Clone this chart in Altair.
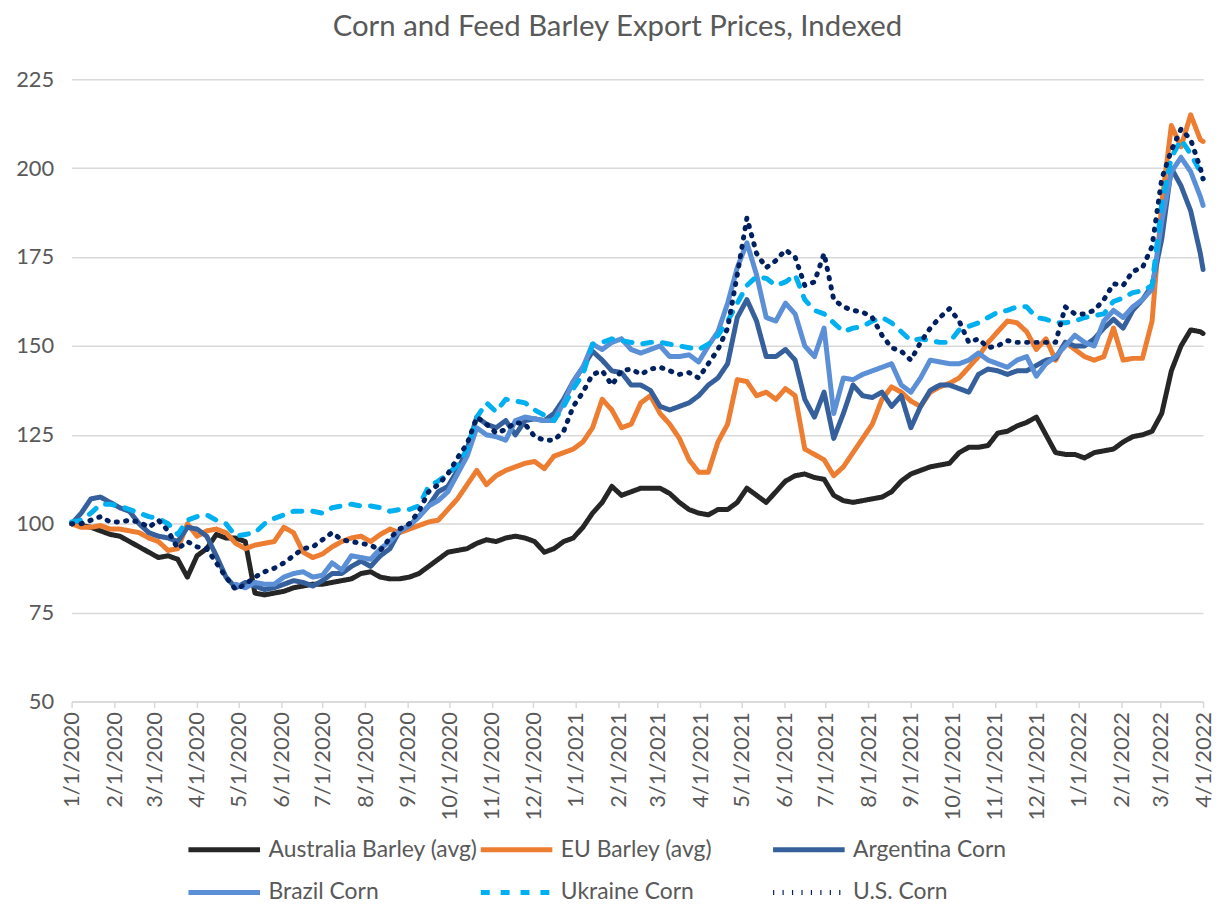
import altair as alt
import pandas as pd

# weekly observation dates (Wednesdays from 1 Jan 2020) plus the final 1 Apr 2022 point
dates = list(pd.date_range("2020-01-01", periods=118, freq="7D").strftime("%Y-%m-%dT00:00:00")) + ["2022-04-01T00:00:00"]

series_names = ["Australia Barley (avg)", "EU Barley (avg)", "Argentina Corn",
                "Brazil Corn", "Ukraine Corn", "U.S. Corn"]
series_colors = ["#262626", "#ED7D31", "#36609B", "#5B8FD6", "#00B0F0", "#002060"]
series_dashes = [[1, 0], [1, 0], [1, 0], [1, 0], [9, 11], [1.2, 8.3]]

australia = [
    100, 99.5, 99, 98, 97, 96.5, 95, 93.5, 92, 90.5,
    91, 90, 85, 91, 93, 97, 96, 96, 95, 80.5,
    80, 80.5, 81, 82, 82.5, 83, 83, 83.5, 84, 84.5,
    86, 86.5, 85, 84.5, 84.5, 85, 86, 88, 90, 92,
    92.5, 93, 94.5, 95.5, 95, 96, 96.5, 96, 95, 92,
    93, 95, 96, 99, 103, 106, 110.5, 108, 109, 110,
    110, 110, 108.5, 106, 104, 103, 102.5, 104, 104, 106,
    110, 108, 106, 109, 112, 113.5, 114, 113, 112.5, 108,
    106.5, 106, 106.5, 107, 107.5, 109, 112, 114, 115, 116,
    116.5, 117, 120, 121.5, 121.5, 122, 125.5, 126, 127.5, 128.5,
    130, 125, 120, 119.5, 119.5, 118.5, 120, 120.5, 121, 123,
    124.5, 125, 126, 131, 143, 150, 154.5, 154,
    153.5]

eu_barley = [
    100, 99, 99, 99.5, 98.5, 98.5, 98, 97.5, 96, 95,
    92.5, 93, 100, 96.5, 98, 98.5, 97.5, 94.5, 93, 94,
    94.5, 95, 99, 97.5, 92, 90.5, 91.5, 93.5, 95, 96,
    96.5, 95, 97, 98.5, 97.5, 98.5, 99.5, 100.5, 101, 104,
    107, 111, 115, 111, 113.5, 115, 116, 117, 117.5, 115.5,
    119, 120, 121, 123, 127, 135, 132, 127, 128, 134,
    136, 131, 128, 124, 118, 114.5, 114.5, 123, 128, 140.5,
    140, 136, 137, 135, 138, 136, 121, 119.5, 118, 113.5,
    116, 120, 124, 128, 135, 138.5, 137, 134.5, 133, 137,
    138.5, 139.5, 141, 144, 147, 151, 154, 157, 156.5, 154,
    149, 152, 146, 151, 149, 147, 146, 147, 155, 146,
    146.5, 146.5, 157, 190, 212, 206, 215, 208,
    207.5]

argentina = [
    100, 103, 107, 107.5, 106, 104.5, 103.5, 100, 97.5, 96.5,
    96, 95, 99, 98.5, 96.5, 91, 85, 82, 83.5, 82.5,
    81.5, 82, 83, 84, 83.5, 82.5, 84, 86, 86, 88,
    89.5, 88, 91, 93, 98, 99.5, 102, 105, 109, 110.5,
    115, 121, 130, 128, 127, 129, 125, 129, 129.5, 129,
    131, 135, 140, 144, 148.5, 146, 143, 142.5, 139, 139,
    137.5, 133, 132, 133, 134, 136, 139, 141, 145, 158,
    163, 157, 147, 147, 149, 146, 135, 130, 137, 124,
    131, 139, 136, 135.5, 137, 133, 136, 127, 133, 137.5,
    139, 139, 138, 137, 142, 143.5, 143, 142, 143, 143,
    144.5, 146, 146.5, 151, 150, 150, 152, 155, 157.5, 155,
    160, 163, 167, 180, 200, 195, 188, 176,
    171.5]

brazil = [None] * 17 + [
    83, 82, 83.5,
    83, 83, 85, 86, 86.5, 85, 85.5, 89, 87, 91,
    90.5, 90, 93, 95, 98, 99.5, 102, 105, 106.5, 109,
    114, 119, 127, 125, 124.5, 123.5, 129, 130, 129.5, 129,
    129, 134, 140, 144, 150.5, 149, 151, 152, 149, 148,
    149, 150, 147, 147, 147.5, 145.5, 150, 154, 162, 172,
    179, 170, 158, 157, 162, 159, 150, 147, 155, 131,
    141, 140.5, 142, 143, 144, 145, 139, 137, 141, 146,
    145.5, 145, 145, 146, 148, 146, 145, 144, 146, 147,
    141.5, 145, 147, 150, 153, 151, 150, 157, 160, 158,
    161, 163, 166, 185, 199, 203, 199, 192,
    189.5]

ukraine = [
    100.5, 101, 103, 105.5, 105.5, 105, 104, 103, 102, 101.5,
    100, 97, 101, 102, 102.5, 101, 100, 96.5, 97, 97.5,
    100, 101.5, 102.5, 103.5, 103.5, 103.5, 103, 104.5, 105, 105.5,
    105, 105, 104.5, 103.5, 104, 104, 105, 110.5, 112, 114,
    116.5, 121, 130, 134, 131.5, 135, 134.5, 134, 132, 130.5,
    129, 133, 138, 142, 150.5, 151, 152, 151.5, 151, 150.5,
    151, 151, 150.5, 150, 149.5, 149, 150.5, 153, 157, 162,
    167, 169.5, 169, 167, 168, 170, 163, 160, 159, 156.5,
    154, 155, 155.5, 157, 158, 156.5, 154, 151.5, 152, 151.5,
    151, 151, 154.5, 155.5, 156.5, 158, 159.5, 160, 161, 161,
    158, 157.5, 156.5, 156.5, 157, 158, 158.5, 159, 162.5, 163.5,
    165, 165.5, 167, 190, 203, 208, 204, 199,
    197]

us_corn = [
    100, 100, 101, 102, 100.5, 100.5, 101, 100.5, 99, 101,
    98, 93, 95, 93.5, 93, 89, 85, 81.5, 83, 85,
    86.5, 87.5, 89, 91, 93, 93.5, 95.5, 97.5, 95.5, 95,
    94.5, 94, 92.5, 96, 98.5, 100, 103.5, 109, 111, 114,
    118.5, 122.5, 130, 128, 125.5, 126.5, 128.5, 128, 124.5, 123.5,
    123.5, 126, 133, 137, 142, 143, 139, 143, 143.5, 142,
    143.5, 144, 143, 142, 142.5, 141, 145, 149, 155, 170,
    186, 176, 172, 174, 177, 175, 167, 168, 176, 163,
    161, 160, 159.5, 158, 153, 149.5, 148.5, 146, 151, 155,
    158, 160.5, 157, 151, 152, 149.5, 150, 151.5, 151, 151,
    151, 151, 151, 161, 159, 159, 160, 163, 167.5, 167,
    171, 172, 178, 197, 205, 211, 208, 200,
    197]

y_ticks = [50, 75, 100, 125, 150, 175, 200, 225]

all_series = [australia, eu_barley, argentina, brazil, ukraine, us_corn]
rows = []
for name, vals in zip(series_names, all_series):
    for d, v in zip(dates, vals):
        if v is not None:
            rows.append({"date": d, "series": name, "value": v})
df = pd.DataFrame(rows)

FONT = "Lato"
GREY = "#595959"
GRID = "#D9D9D9"

legend = alt.Legend(
    title=None, orient="none", legendX=115, legendY=760, columns=3, direction="horizontal",
    symbolType="stroke", symbolSize=5184, symbolStrokeWidth=5,
    labelFont=FONT, labelFontSize=23, labelColor=GREY, labelOffset=6,
    columnPadding=-2, rowPadding=13, clipHeight=30, gridAlign="all", labelLimit=400,
)

chart = alt.Chart(df).mark_line(
    strokeWidth=5, strokeCap="round", strokeJoin="round"
).encode(
    x=alt.X("date:T",
            scale=alt.Scale(domain=[alt.DateTime(year=2020, month=1, date=1),
                                    alt.DateTime(year=2022, month=4, date=1)], nice=False),
            axis=alt.Axis(title=None, format="%-m/%-d/%Y", labelAngle=270,
                          tickCount=alt.TimeIntervalStep(interval="month", step=1),
                          grid=False, domainColor=GRID, domainWidth=1.5,
                          tickColor=GRID, tickWidth=1.5, tickSize=6,
                          labelFont=FONT, labelFontSize=22, labelColor=GREY,
                          labelPadding=4, labelOverlap=False, labelFlush=False)),
    y=alt.Y("value:Q",
            scale=alt.Scale(domain=[50, 225], nice=False, zero=False),
            axis=alt.Axis(title=None, values=y_ticks, grid=True, gridColor=GRID, gridWidth=1.5,
                          domain=False, ticks=False, labelFont=FONT, labelFontSize=22,
                          labelColor=GREY, labelPadding=18)),
    color=alt.Color("series:N", scale=alt.Scale(domain=series_names, range=series_colors),
                    sort=series_names, legend=legend),
    strokeDash=alt.StrokeDash("series:N", scale=alt.Scale(domain=series_names, range=series_dashes),
                              sort=series_names, legend=legend),
).properties(
    width=1138, height=626,
    title=alt.TitleParams("Corn and Feed Barley Export Prices, Indexed", font=FONT, fontSize=29.5,
                          fontWeight="normal", color=GREY, anchor="middle", dx=-20, offset=26),
    autosize=alt.AutoSizeParams(type="none"),
    padding={"left": 64, "top": 69, "right": 12, "bottom": 205},
).configure_view(stroke=None)

chart.save("out.html", embed_options={"renderer": "svg", "actions": False})
